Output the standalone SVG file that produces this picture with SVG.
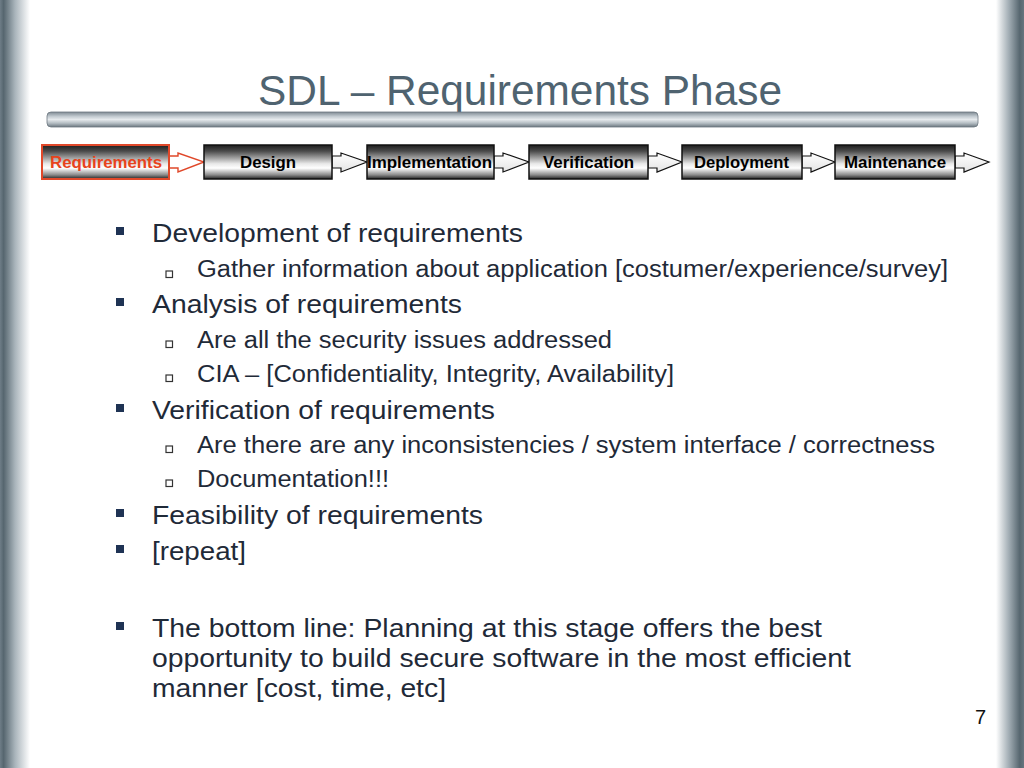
<svg xmlns="http://www.w3.org/2000/svg" width="1024" height="768" viewBox="0 0 1024 768">
<defs>
<linearGradient id="lb" x1="0" y1="0" x2="1" y2="0">
<stop offset="0" stop-color="#6e7d87"/>
<stop offset="0.12" stop-color="#56666f"/>
<stop offset="0.5" stop-color="#a9b4bb"/>
<stop offset="1" stop-color="#ffffff"/>
</linearGradient>
<linearGradient id="rb" x1="0" y1="0" x2="1" y2="0">
<stop offset="0" stop-color="#ffffff"/>
<stop offset="0.45" stop-color="#a4afb6"/>
<stop offset="0.85" stop-color="#56666f"/>
<stop offset="1" stop-color="#66757f"/>
</linearGradient>
<linearGradient id="bar" x1="0" y1="0" x2="0" y2="1">
<stop offset="0" stop-color="#7f8a93"/>
<stop offset="0.3" stop-color="#c3cbd1"/>
<stop offset="0.5" stop-color="#e6eaed"/>
<stop offset="0.75" stop-color="#b3bcc2"/>
<stop offset="1" stop-color="#6c7780"/>
</linearGradient>
<linearGradient id="box" x1="0" y1="0" x2="0" y2="1">
<stop offset="0" stop-color="#1e1e1e"/>
<stop offset="0.18" stop-color="#4a4a4a"/>
<stop offset="0.55" stop-color="#e8e8e8"/>
<stop offset="0.68" stop-color="#ffffff"/>
<stop offset="0.88" stop-color="#8a8a8a"/>
<stop offset="1" stop-color="#222222"/>
</linearGradient>
<linearGradient id="arr" x1="0" y1="0" x2="0" y2="1">
<stop offset="0" stop-color="#ffffff"/>
<stop offset="1" stop-color="#e4e4e4"/>
</linearGradient>
</defs>
<style>
.ph{fill:url(#box);stroke:#111;stroke-width:1.5}
.phr{fill:url(#box);stroke:#e0482a;stroke-width:2}
.pt{font-family:"Liberation Sans",Arial,sans-serif;font-weight:bold;font-size:16px;fill:#000}
.ptr{font-family:"Liberation Sans",Arial,sans-serif;font-weight:bold;font-size:16px;fill:#e8431c}
.ar{fill:url(#arr);stroke:#111;stroke-width:1.2;stroke-linejoin:miter}
.arr{fill:#ffffff;stroke:#e0482a;stroke-width:1.4}
.l1{font-family:"Liberation Sans",Arial,sans-serif;font-size:26px;fill:#1f2a38}
.l2{font-family:"Liberation Sans",Arial,sans-serif;font-size:23px;fill:#1f2a38}
.b1{fill:#1f3354}
.b2{fill:#ffffff;stroke:#333;stroke-width:1.2}
</style>
<rect x="0" y="0" width="1024" height="768" fill="#ffffff"/>
<rect x="0" y="0" width="30" height="768" fill="url(#lb)"/>
<rect x="996" y="0" width="28" height="768" fill="url(#rb)"/>

<g id="title">
<text x="258" y="105" font-family="Liberation Sans, Arial, sans-serif" font-size="43" fill="#4f6370" textLength="524" lengthAdjust="spacingAndGlyphs">SDL – Requirements Phase</text>
<rect x="47" y="112" width="931" height="15" rx="4" fill="url(#bar)" stroke="#6c7780" stroke-width="0.8"/>
</g>

<g id="connectors">
<path class="arr" d="M169,156 H178 V153 L204,162 L178,172 V168 H169 Z"/>
<path class="ar" d="M332,156 H341 V153 L367,162 L341,172 V168 H332 Z"/>
<path class="ar" d="M494,156 H503 V153 L529,162 L503,172 V168 H494 Z"/>
<path class="ar" d="M648,156 H657 V153 L682,162 L657,172 V168 H648 Z"/>
<path class="ar" d="M802,156 H811 V153 L835,162 L811,172 V168 H802 Z"/>
<path class="ar" d="M955,156 H964 V153 L989,162 L964,172 V168 H955 Z"/>
</g>

<g id="node-requirements">
<rect class="phr" x="42" y="145" width="127" height="34"/>
<text class="ptr" x="50" y="168" textLength="112" lengthAdjust="spacingAndGlyphs">Requirements</text>
</g>
<g id="node-design">
<rect class="ph" x="204" y="145" width="128" height="34"/>
<text class="pt" x="240" y="168" textLength="56" lengthAdjust="spacingAndGlyphs">Design</text>
</g>
<g id="node-implementation">
<rect class="ph" x="367" y="145" width="127" height="34"/>
<text class="pt" x="367" y="168" textLength="125" lengthAdjust="spacingAndGlyphs">Implementation</text>
</g>
<g id="node-verification">
<rect class="ph" x="529" y="145" width="119" height="34"/>
<text class="pt" x="543" y="168" textLength="91" lengthAdjust="spacingAndGlyphs">Verification</text>
</g>
<g id="node-deployment">
<rect class="ph" x="682" y="145" width="120" height="34"/>
<text class="pt" x="694" y="168" textLength="95" lengthAdjust="spacingAndGlyphs">Deployment</text>
</g>
<g id="node-maintenance">
<rect class="ph" x="835" y="145" width="120" height="34"/>
<text class="pt" x="844" y="168" textLength="102" lengthAdjust="spacingAndGlyphs">Maintenance</text>
</g>

<g id="bullets">
<rect class="b1" x="116" y="227" width="8" height="8"/>
<text class="l1" x="152" y="242" textLength="371" lengthAdjust="spacingAndGlyphs">Development of requirements</text>
<rect class="b2" x="166" y="271" width="6.5" height="6.5"/>
<text class="l2" x="197" y="277" textLength="751" lengthAdjust="spacingAndGlyphs">Gather information about application [costumer/experience/survey]</text>
<rect class="b1" x="116" y="298" width="8" height="8"/>
<text class="l1" x="152" y="313" textLength="310" lengthAdjust="spacingAndGlyphs">Analysis of requirements</text>
<rect class="b2" x="166" y="341" width="6.5" height="6.5"/>
<text class="l2" x="197" y="348" textLength="415" lengthAdjust="spacingAndGlyphs">Are all the security issues addressed</text>
<rect class="b2" x="166" y="375" width="6.5" height="6.5"/>
<text class="l2" x="197" y="382" textLength="477" lengthAdjust="spacingAndGlyphs">CIA – [Confidentiality, Integrity, Availability]</text>
<rect class="b1" x="116" y="404" width="8" height="8"/>
<text class="l1" x="152" y="419" textLength="343" lengthAdjust="spacingAndGlyphs">Verification of requirements</text>
<rect class="b2" x="166" y="446" width="6.5" height="6.5"/>
<text class="l2" x="197" y="453" textLength="738" lengthAdjust="spacingAndGlyphs">Are there are any inconsistencies / system interface / correctness</text>
<rect class="b2" x="166" y="480" width="6.5" height="6.5"/>
<text class="l2" x="197" y="487" textLength="192" lengthAdjust="spacingAndGlyphs">Documentation!!!</text>
<rect class="b1" x="116" y="509" width="8" height="8"/>
<text class="l1" x="152" y="524" textLength="331" lengthAdjust="spacingAndGlyphs">Feasibility of requirements</text>
<rect class="b1" x="116" y="545" width="8" height="8"/>
<text class="l1" x="152" y="560" textLength="94" lengthAdjust="spacingAndGlyphs">[repeat]</text>
<rect class="b1" x="116" y="622" width="8" height="8"/>
<text class="l1" x="152" y="637" textLength="670" lengthAdjust="spacingAndGlyphs">The bottom line: Planning at this stage offers the best</text>
<text class="l1" x="152" y="667" textLength="699" lengthAdjust="spacingAndGlyphs">opportunity to build secure software in the most efficient</text>
<text class="l1" x="152" y="697" textLength="294" lengthAdjust="spacingAndGlyphs">manner [cost, time, etc]</text>
</g>

<text x="975" y="724" font-family="Liberation Sans, Arial, sans-serif" font-size="20" fill="#111">7</text>
</svg>
